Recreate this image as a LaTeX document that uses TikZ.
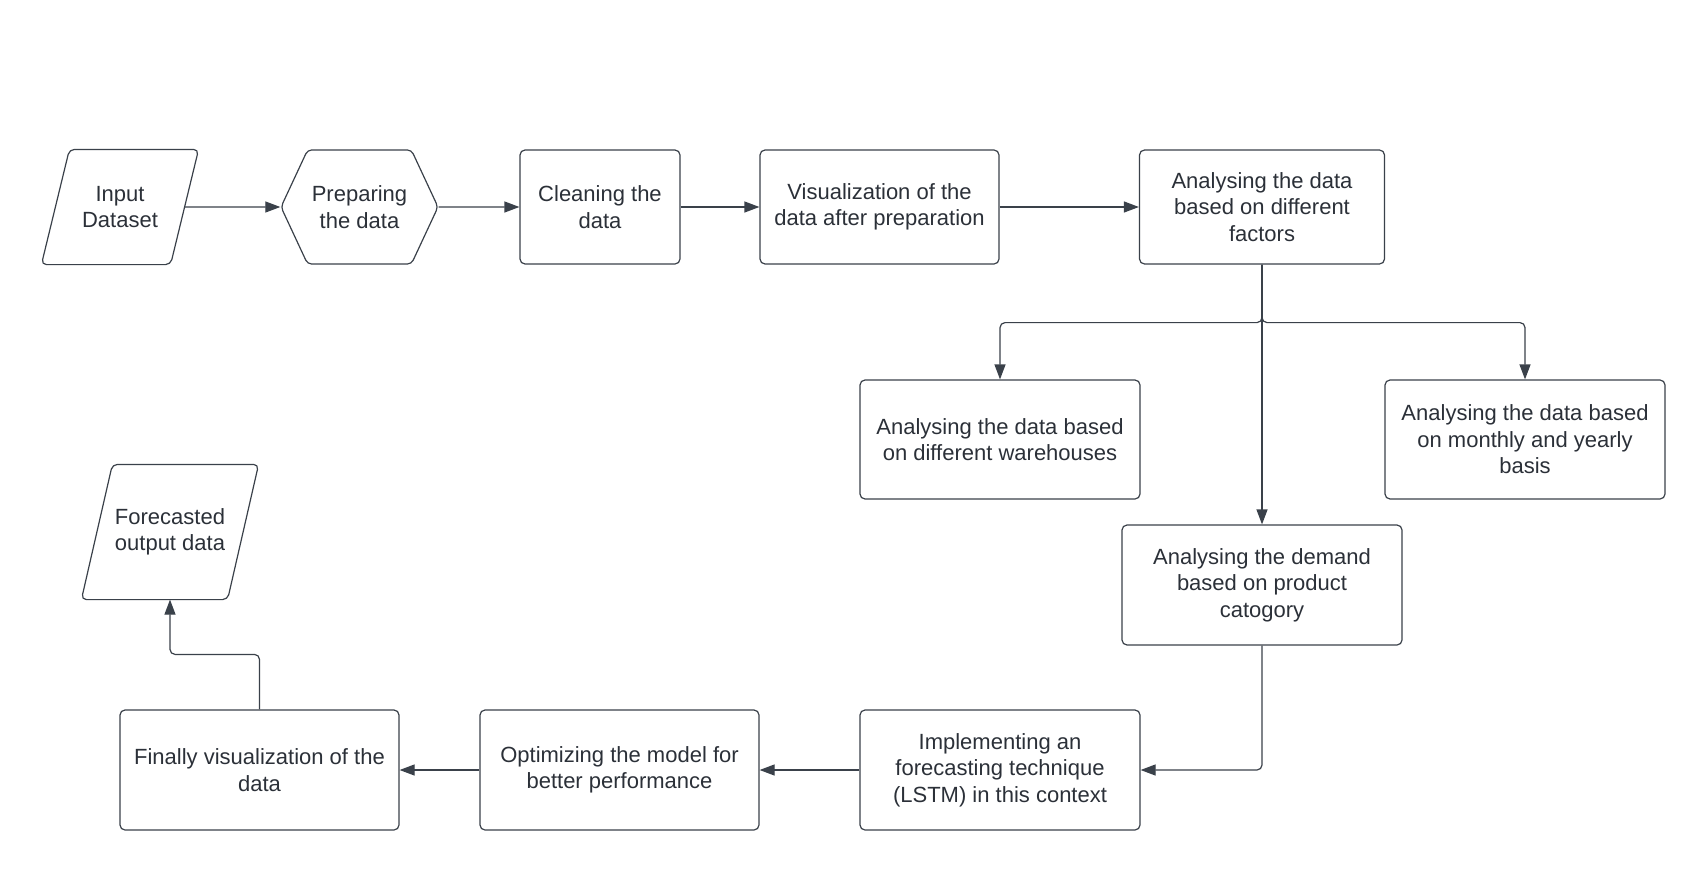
\documentclass[tikz,border=0pt]{standalone}
\usepackage{fontspec}
\setmainfont{Liberation Sans}
\usepackage{tikz}
\usetikzlibrary{arrows.meta,shapes.geometric,shapes.symbols}
\definecolor{linegray}{HTML}{3A414A}
\definecolor{textgray}{HTML}{2B3038}
\tikzset{
  base/.style={draw=linegray, line width=1.2pt, align=center, text=textgray,
               font=\fontsize{22}{26.5}\selectfont, inner sep=0pt},
  block/.style 2 args={base, rectangle, rounded corners=5pt, minimum width=#1, minimum height=#2},
  io/.style 2 args={base, draw=none, rectangle, minimum width=#1, minimum height=#2},
  ioline/.style={draw=linegray, line width=1.2pt, rounded corners=5pt},
  prepshape/.style={base, signal, signal to=west and east, signal pointer angle=130,
                    rounded corners=4pt, minimum width=157pt, minimum height=114pt},
  arr/.style={draw=linegray, line width=1.2pt, -{Triangle[length=15pt,width=11pt]}}
}

\begin{document}
\begin{tikzpicture}[x=1pt,y=-1pt]
    \useasboundingbox (0,0) rectangle (1705,870); % page size

    % top row
    \node[io={156pt}{114pt}] (input) at (120,207) {Input\\Dataset}; % input
    \draw[ioline] (input.south west) -- ([xshift=-28pt]input.south east) -- (input.north east)
        -- ([xshift=28pt]input.north west) -- cycle; % input outline
    \node[prepshape] (prep) at (359.5,207) {Preparing\\the data}; % preparation
    \node[block={160pt}{114pt}] (clean) at (600,207) {Cleaning the\\data}; % cleaning
    \node[block={239pt}{114pt}] (vis) at (879.5,207) {Visualization of the\\data after preparation}; % visualization
    \node[block={245pt}{114pt}] (factors) at (1262,207) {Analysing the data\\based on different\\factors}; % factors

    % analysis branches
    \node[block={280pt}{119pt}] (ware) at (1000,439.5) {Analysing the data based\\on different warehouses}; % warehouses
    \node[block={280pt}{119pt}] (month) at (1525,439.5) {Analysing the data based\\on monthly and yearly\\basis}; % monthly
    \node[block={280pt}{120pt}] (demand) at (1262,585) {Analysing the demand\\based on product\\catogory}; % demand

    % bottom row
    \node[block={280pt}{120pt}] (lstm) at (1000,770) {Implementing an\\forecasting technique\\(LSTM) in this context}; % LSTM
    \node[block={279pt}{120pt}] (optim) at (619.5,770) {Optimizing the model for\\better performance}; % optimizing
    \node[block={279pt}{120pt}] (final) at (259.5,770) {Finally visualization of the\\data}; % final visualization
    \node[io={176pt}{134pt}] (output) at (170,532) {Forecasted\\output data}; % output
    \draw[ioline] (output.south west) -- ([xshift=-31pt]output.south east) -- (output.north east)
        -- ([xshift=31pt]output.north west) -- cycle; % output outline

    % connectors
    \draw[arr] ([xshift=-14pt]input.east) -- (prep);
    \draw[arr] (prep) -- (clean);
    \draw[arr] (clean) -- (vis);
    \draw[arr] (vis) -- (factors);
    \draw[arr,rounded corners=5pt] (factors.south) -- ++(0,58) -| (ware.north);
    \draw[arr,rounded corners=5pt] (factors.south) -- ++(0,58) -| (month.north);
    \draw[arr] (factors.south) -- (demand.north);
    \draw[arr,rounded corners=5pt] (demand.south) |- (lstm.east);
    \draw[arr] (lstm) -- (optim);
    \draw[arr] (optim) -- (final);
    \draw[arr,rounded corners=5pt] (final.north) -- ++(0,-55) -| (output.south);
\end{tikzpicture}
\end{document}
